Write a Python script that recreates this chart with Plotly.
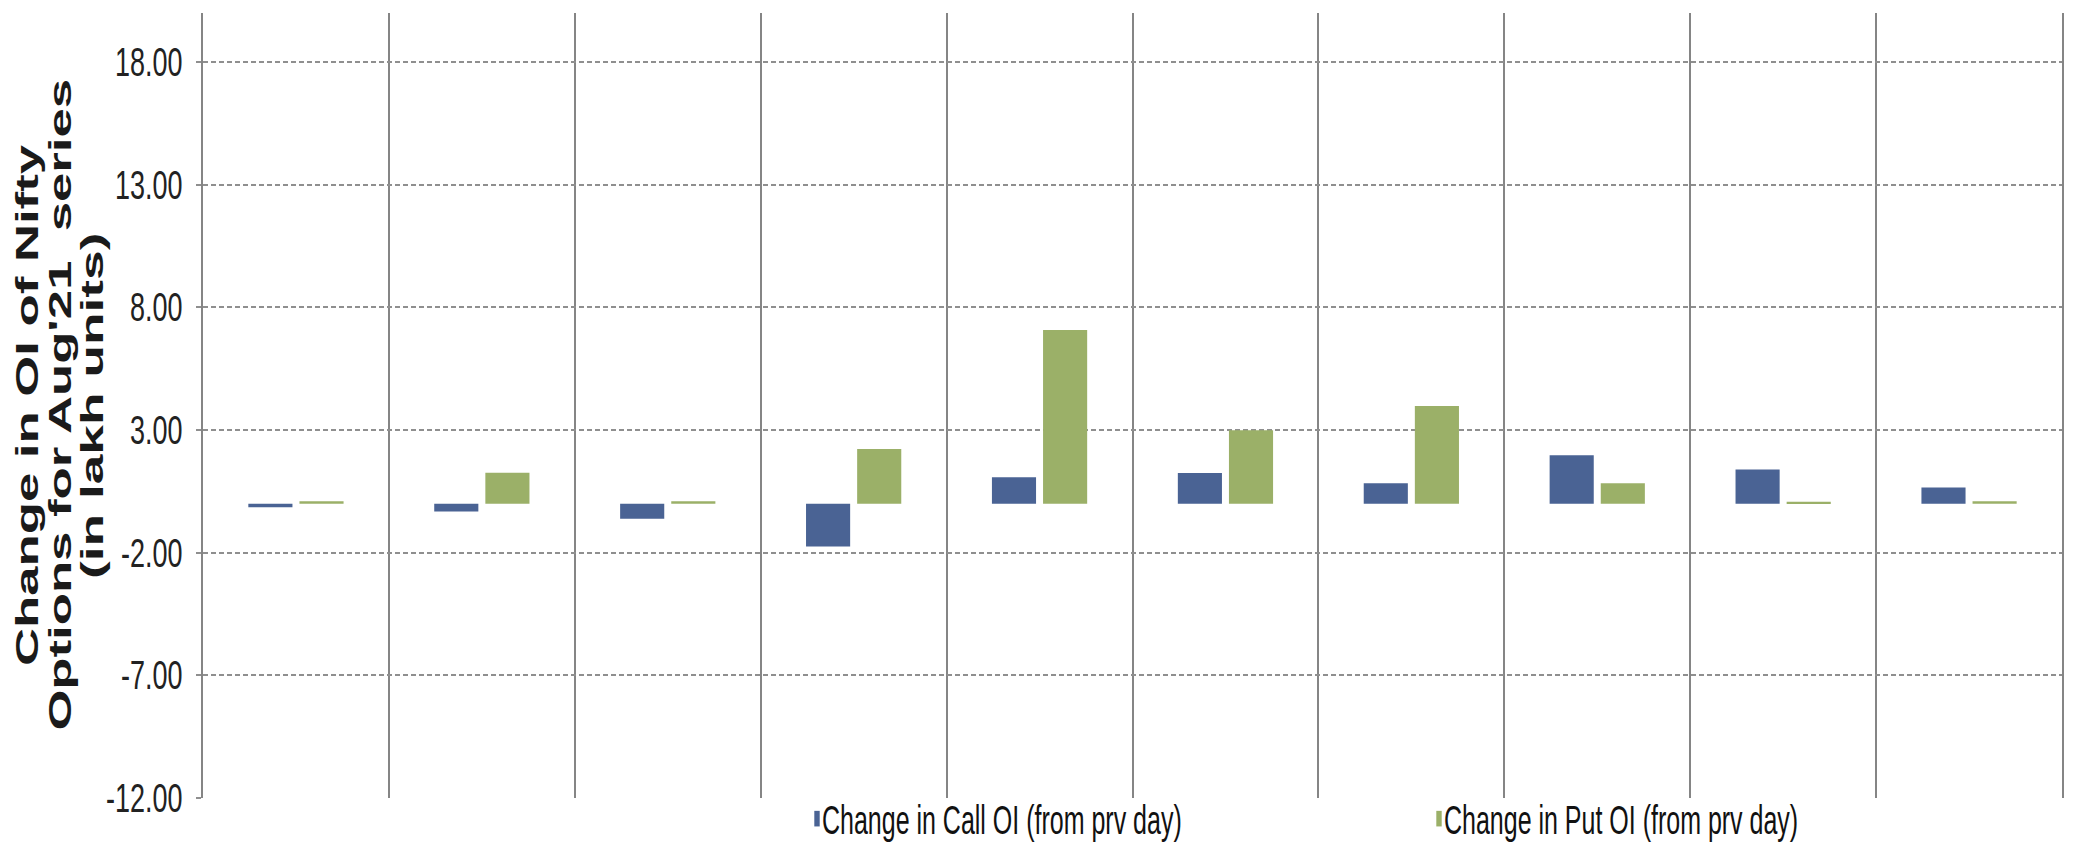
import plotly.graph_objects as go

# Strike buckets (ten groups, unlabeled on the axis)
categories = [str(i) for i in range(1, 11)]

# Change in open interest, in lakh units
call_change = [-0.15, -0.32, -0.62, -1.75, 1.08, 1.25, 0.83, 1.97, 1.39, 0.66]
put_change = [0.10, 1.26, 0.10, 2.23, 7.08, 2.99, 3.98, 0.83, 0.08, 0.10]

series_names = ["Change in Call OI (from prv day)", "Change in Put OI (from prv day)"]
series_colors = ["#4a6394", "#9bb068"]

y_ticks = [-12, -7, -2, 3, 8, 13, 18]
y_tick_text = [f"{v:.2f}" for v in y_ticks]

title_lines = ["Change in OI of Nifty", "Options for Aug'21\u00a0 series", "(in lakh units)"]

W, H = 2075, 854
L, R, T, B = 203, 13, 13, 52
plot_w = W - L - R
plot_h = H - T - B

sans = "Liberation Sans, Arial, sans-serif"

fig = go.Figure()
for name, vals, col in zip(series_names, [call_change, put_change], series_colors):
    fig.add_trace(go.Bar(
        x=categories, y=vals, name=name,
        marker=dict(color=col, line=dict(width=0)),
    ))

fig.update_layout(
    width=W, height=H,
    margin=dict(l=L, r=R, t=T, b=B),
    plot_bgcolor="white", paper_bgcolor="white",
    barmode="group", bargap=0.45, bargroupgap=0.137,
    showlegend=True,
    legend=dict(
        orientation="h", x=(782 - L) / plot_w, xanchor="left",
        y=-(823 - (H - B)) / plot_h, yanchor="middle",
        font=dict(family=sans, size=25, color="#111"),
        entrywidth=577, itemwidth=30,
        bgcolor="rgba(0,0,0,0)",
    ),
    xaxis=dict(
        type="category", showticklabels=False, ticks="",
        tickson="boundaries", showgrid=True,
        gridcolor="#858585", gridwidth=1.5,
        zeroline=False, showline=False,
    ),
    yaxis=dict(
        range=[-12, 20], tickvals=y_ticks, ticktext=y_tick_text,
        showgrid=True, gridcolor="#8f8f8f", gridwidth=2, griddash="5px,3px",
        zeroline=False,
        showline=True, linecolor="#858585", linewidth=2, mirror=True,
        ticks="outside", ticklen=5, tickcolor="#8f8f8f", tickwidth=2,
        ticklabelstandoff=8,
        tickfont=dict(family=sans, size=27, color="#222"),
    ),
)

# Three-line rotated axis title
line_x = [28, 61, 93]
for txt, px in zip(title_lines, line_x):
    fig.add_annotation(
        text=txt, xref="paper", yref="paper",
        x=(px - L) / plot_w, y=0.5, xanchor="center", yanchor="middle",
        textangle=-90, showarrow=False,
        font=dict(family=sans, size=31, color="#1a1a1a", weight="bold"),
    )

# Tall, elongated lettering: stretch title lines along their length,
# tick labels and legend text vertically; slim the legend swatches.
stretch_js = """
var gd = document.getElementById('{plot_id}');
var factors = [1.70, 1.70, 1.72];
gd.querySelectorAll('g.annotation text.annotation-text').forEach(function(t, i){
  var b = t.getBBox();
  var cx = b.x + b.width / 2;
  var f = factors[i] || 1.6;
  t.setAttribute('transform', 'translate(' + cx + ',0) scale(' + f + ',1) translate(' + (-cx) + ',0)');
});
function vstretch(sel, f){
  gd.querySelectorAll(sel).forEach(function(t){
    var b = t.getBBox();
    var cy = b.y + b.height / 2;
    var old = t.getAttribute('transform') || '';
    t.setAttribute('transform', old + ' translate(0,' + cy + ') scale(1,' + f + ') translate(0,' + (-cy) + ')');
  });
}
vstretch('g.ytick text', 1.5);
vstretch('g.legend text.legendtext', 1.65);
gd.querySelectorAll('g.legend g.legendpoints path').forEach(function(p){
  var old = p.getAttribute('transform') || '';
  p.setAttribute('transform', old + ' translate(15,0) scale(0.45,1.3)');
});
"""

fig.write_html("out.html", post_script=stretch_js)
